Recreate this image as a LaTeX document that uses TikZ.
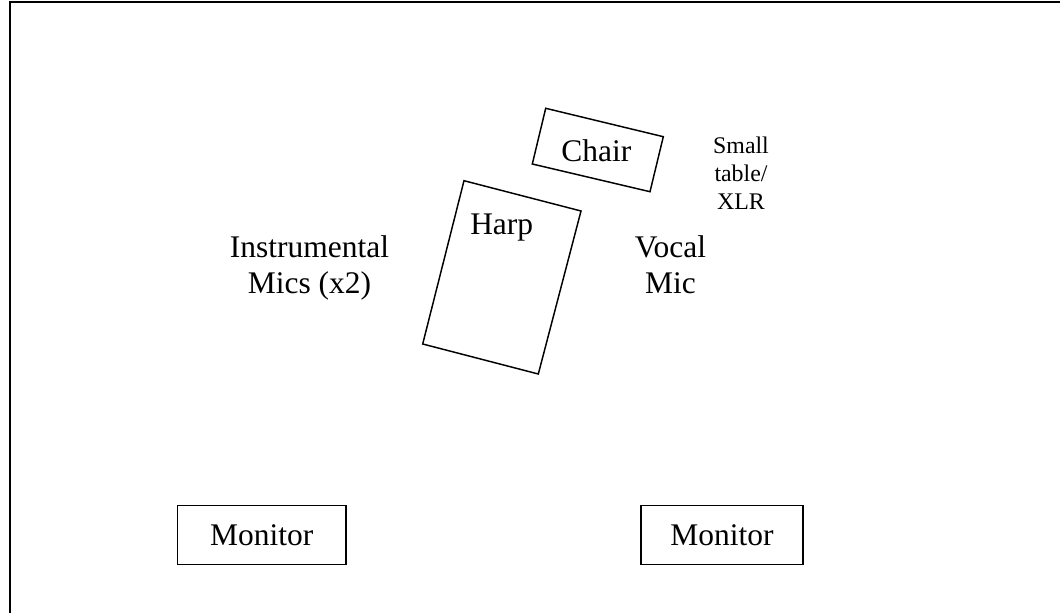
\documentclass[tikz,border=0pt]{standalone}
\usepackage{fontspec}
\setmainfont{Liberation Serif}
\begin{document}
\begin{tikzpicture}[x=0.75pt,y=-0.75pt,
  outline/.style={draw=black,line width=1.1pt,line join=miter},
  frame/.style={draw=black,line width=1.5pt},
  bigtext/.style={font=\fontsize{23.6}{27}\selectfont,inner sep=0pt,align=center},
  smalltext/.style={font=\fontsize{17.9}{21}\selectfont,inner sep=0pt,align=center},
  monitorbox/.style={outline,inner sep=0pt,minimum width=121.5pt,minimum height=44pt,font=\fontsize{23.6}{27}\selectfont}]
\useasboundingbox (0,0) rectangle (1060,613);
% outer frame (only top and left edges fall inside the picture)
\coordinate (fbl) at (10,613);
\coordinate (ftl) at (10,2);
\coordinate (ftr) at (1060,2);
\draw[frame] (fbl) -- (ftl) -- (ftr);
% chair outline
\draw[outline] (545.7,108.3) -- (663.3,136.7) -- (650,191.7) -- (532.3,164) -- cycle;
\node[bigtext,anchor=base] (chair) at (596.3,161.7) {Chair};
% harp outline
\draw[outline] (464,180.7) -- (581,211) -- (538.3,374) -- (422.7,344) -- cycle;
\node[bigtext,anchor=base] (harp) at (501.7,234.3) {Harp};
% labels
\node[smalltext] (table) at (741,173.5) {Small\\table/\\XLR};
\node[bigtext] (vocal) at (670.5,264.5) {Vocal\\Mic};
\node[bigtext] (instr) at (309.5,267.5) {Instrumental\\Mics (x2)};
% monitors
\node[monitorbox,minimum width=126.5pt] (mon1) at (261.7,535) {Monitor};
\node[monitorbox] (mon2) at (722,535) {Monitor};
\end{tikzpicture}
\end{document}
